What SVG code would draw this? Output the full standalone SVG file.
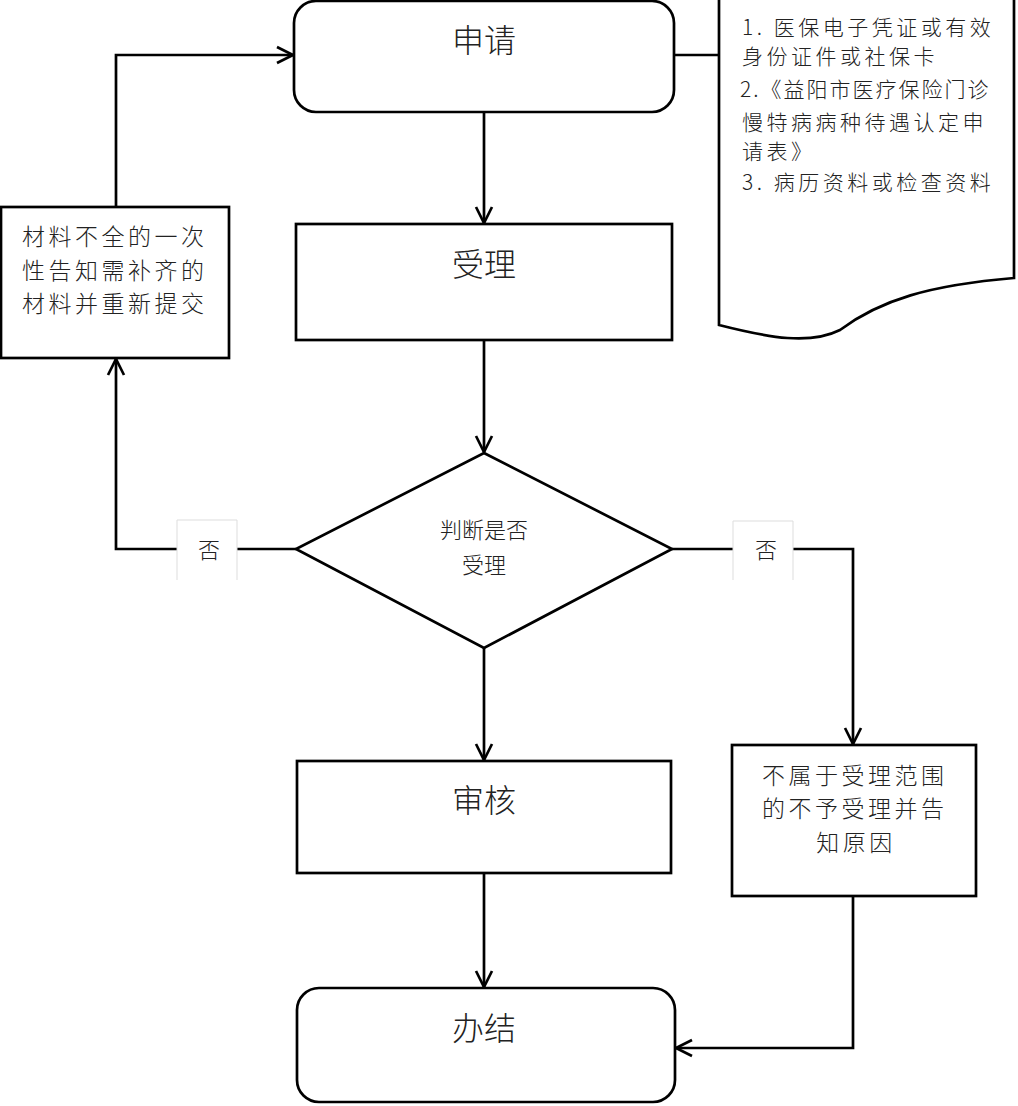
<svg xmlns="http://www.w3.org/2000/svg" width="1018" height="1106" viewBox="0 0 1018 1106">
<style>
.s{fill:#fff;stroke:#000;stroke-width:2.7}
.c{fill:none;stroke:#000;stroke-width:2.7}
.t{font-family:"Noto Sans CJK SC","Liberation Sans",sans-serif;fill:#222;font-weight:300}
.big{font-size:32px;text-anchor:middle}
.mid{font-size:23px;letter-spacing:3.5px}
.doc{font-size:21px;letter-spacing:3.5px}
.lab{fill:#fff;stroke:#ddd;stroke-width:1}
</style>
<defs>
<marker id="a" viewBox="0 0 20 20" refX="18" refY="10" markerWidth="20" markerHeight="20" markerUnits="userSpaceOnUse" orient="auto">
<path d="M2,2 L18,10 L2,18" fill="none" stroke="#000" stroke-width="2.7"/>
</marker>
</defs>
<rect width="1018" height="1106" fill="#fff"/>
<g id="connectors">
<line class="c" x1="484" y1="112" x2="484" y2="223" marker-end="url(#a)"/>
<line class="c" x1="484" y1="340" x2="484" y2="452" marker-end="url(#a)"/>
<line class="c" x1="484" y1="648" x2="484" y2="760" marker-end="url(#a)"/>
<line class="c" x1="484" y1="873" x2="484" y2="987" marker-end="url(#a)"/>
<polyline class="c" points="296,549 116,549 116,359" marker-end="url(#a)"/>
<polyline class="c" points="116,207 116,55 293,55" marker-end="url(#a)"/>
<line class="c" x1="674" y1="55" x2="719" y2="55"/>
<polyline class="c" points="672,549 853,549 853,744" marker-end="url(#a)"/>
<polyline class="c" points="853,896 853,1048 676,1048" marker-end="url(#a)"/>
<g id="label-no-left">
<path class="lab" d="M177,580 V520 H237 V580"/>
<rect x="178" y="521" width="58" height="60" fill="#fff"/>
<text class="t" x="209" y="558" font-size="22" text-anchor="middle">否</text>
</g>
<g id="label-no-right">
<path class="lab" d="M733,580 V521 H793 V580"/>
<rect x="734" y="522" width="58" height="60" fill="#fff"/>
<text class="t" x="766" y="558" font-size="22" text-anchor="middle">否</text>
</g>
</g>
<g id="apply">
<rect class="s" x="294" y="1" width="380" height="111" rx="22"/>
<text class="t big" x="484" y="52">申请</text>
</g>
<g id="docs">
<path class="s" d="M719,-2 H1014 V278 C930,285 880,300 840,330 C810,345 770,338 719,325 Z"/>
<text class="t doc" x="742" y="35">1. 医保电子凭证或有效</text>
<text class="t doc" x="742" y="64">身份证件或社保卡</text>
<text class="t doc" x="740" y="97" textLength="252" lengthAdjust="spacing">2.《益阳市医疗保险门诊</text>
<text class="t doc" x="742" y="130">慢特病病种待遇认定申</text>
<text class="t doc" x="742" y="159">请表》</text>
<text class="t doc" x="742" y="190">3. 病历资料或检查资料</text>
</g>
<g id="accept">
<rect class="s" x="296" y="224" width="376" height="116"/>
<text class="t big" x="484" y="276">受理</text>
</g>
<g id="supplement">
<rect class="s" x="1" y="207" width="228" height="151"/>
<text class="t mid" x="22" y="245">材料不全的一次</text>
<text class="t mid" x="22" y="279">性告知需补齐的</text>
<text class="t mid" x="22" y="312">材料并重新提交</text>
</g>
<g id="decide">
<polygon class="s" points="484,453 672,549 484,648 296,549"/>
<text class="t" x="484" y="538" font-size="22" text-anchor="middle">判断是否</text>
<text class="t" x="484" y="573" font-size="22" text-anchor="middle">受理</text>
</g>
<g id="review">
<rect class="s" x="297" y="761" width="374" height="112"/>
<text class="t big" x="484" y="812">审核</text>
</g>
<g id="reject">
<rect class="s" x="732" y="745" width="244" height="151"/>
<text class="t mid" x="762" y="784">不属于受理范围</text>
<text class="t mid" x="762" y="817">的不予受理并告</text>
<text class="t mid" x="856" y="851" text-anchor="middle">知原因</text>
</g>
<g id="done">
<rect class="s" x="297" y="988" width="378" height="114" rx="22"/>
<text class="t big" x="484" y="1040">办结</text>
</g>
</svg>
